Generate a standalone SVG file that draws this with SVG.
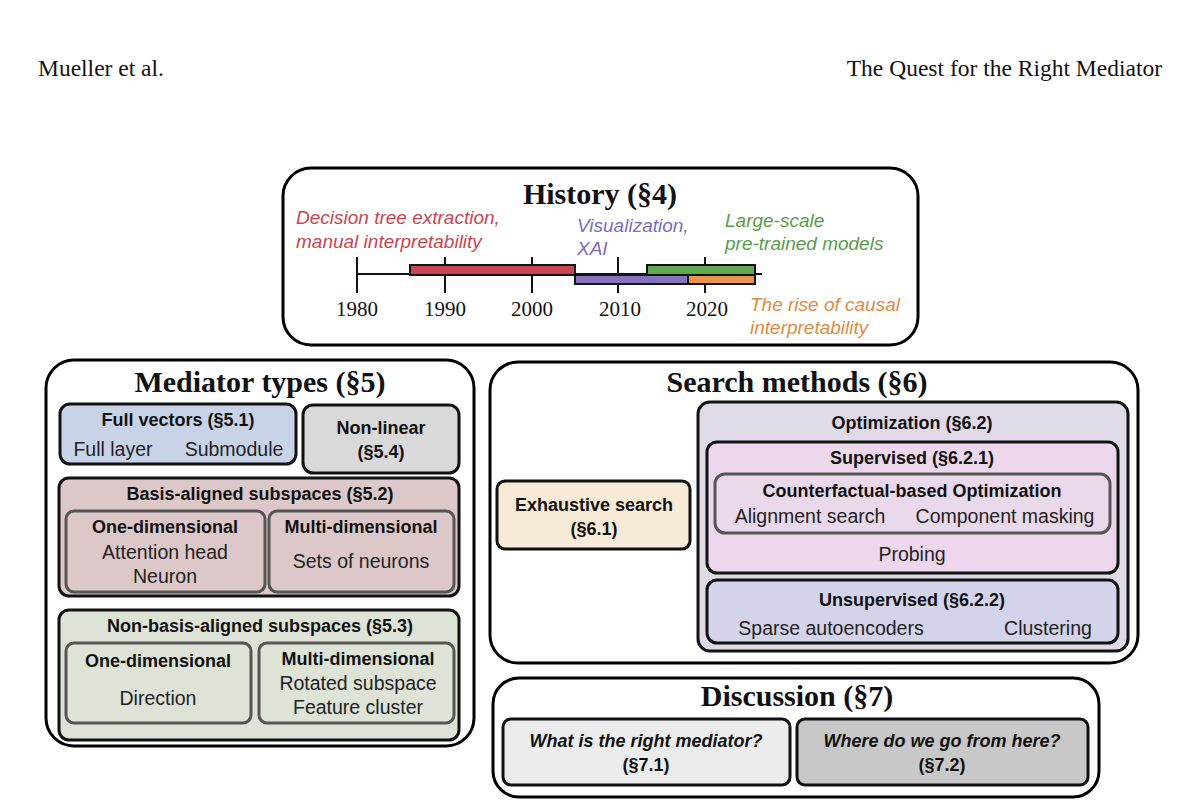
<svg xmlns="http://www.w3.org/2000/svg" width="1200" height="812" viewBox="0 0 1200 812">
<style>
.hd{font-family:"Liberation Serif",serif;font-size:23.5px;fill:#111}
.big{font-family:"Liberation Serif",serif;font-size:30px;font-weight:bold;fill:#111;text-anchor:middle}
.bt{font-family:"Liberation Sans",sans-serif;font-size:18px;font-weight:bold;fill:#111;text-anchor:middle}
.tx{font-family:"Liberation Sans",sans-serif;font-size:19.5px;fill:#222;text-anchor:middle}
.it{font-family:"Liberation Sans",sans-serif;font-size:18px;font-style:italic;font-weight:bold;fill:#111;text-anchor:middle}
.ti{font-family:"Liberation Sans",sans-serif;font-size:19px;font-style:italic}
.yr{font-family:"Liberation Serif",serif;font-size:21px;fill:#111;text-anchor:middle}
.outer{fill:#fff;stroke:#000;stroke-width:3}
.in{stroke:#111;stroke-width:3}
.in2{stroke:#555;stroke-width:3}
</style>
<rect width="1200" height="812" fill="#fff"/>
<text class="hd" x="38" y="76">Mueller et al.</text>
<text class="hd" x="1162" y="76" text-anchor="end">The Quest for the Right Mediator</text>

<g id="history">
<rect class="outer" x="283" y="168" width="635" height="177" rx="28"/>
<text class="big" x="600" y="204">History (§4)</text>
<g stroke="#111" stroke-width="2">
<line x1="357" y1="274" x2="762" y2="274"/>
<line x1="357" y1="257" x2="357" y2="293"/><line x1="445" y1="257" x2="445" y2="293"/>
<line x1="532" y1="257" x2="532" y2="293"/><line x1="618" y1="257" x2="618" y2="293"/>
<line x1="705" y1="257" x2="705" y2="293"/>
</g>
<rect x="410" y="265" width="165" height="10" fill="#c9454f" stroke="#111" stroke-width="2"/>
<rect x="575" y="275" width="113" height="9" fill="#8673c0" stroke="#111" stroke-width="2"/>
<rect x="647" y="265" width="108" height="10" fill="#5fa951" stroke="#111" stroke-width="2"/>
<rect x="688" y="275" width="67" height="9" fill="#e8944a" stroke="#111" stroke-width="2"/>
<text class="yr" x="357" y="316">1980</text><text class="yr" x="445" y="316">1990</text>
<text class="yr" x="532" y="316">2000</text><text class="yr" x="620" y="316">2010</text>
<text class="yr" x="707" y="316">2020</text>
<text class="ti" x="296" y="224" fill="#c9454f">Decision tree extraction,</text>
<text class="ti" x="296" y="248" fill="#c9454f">manual interpretability</text>
<text class="ti" x="577" y="232" fill="#7d6bbd">Visualization,</text>
<text class="ti" x="577" y="255" fill="#7d6bbd">XAI</text>
<text class="ti" x="725" y="227" fill="#5a9c4a">Large-scale</text>
<text class="ti" x="725" y="250" fill="#5a9c4a">pre-trained models</text>
<text class="ti" x="750" y="311" fill="#e08b43">The rise of causal</text>
<text class="ti" x="750" y="334" fill="#e08b43">interpretability</text>
</g>

<g id="mediator">
<rect class="outer" x="46" y="360" width="428" height="386" rx="28"/>
<text class="big" x="260" y="392">Mediator types (§5)</text>
<g id="fullvec"><rect class="in" x="60" y="404" width="236" height="60" rx="10" fill="#c9d3e8"/>
<text class="bt" x="178" y="426">Full vectors (§5.1)</text>
<text class="tx" x="113" y="456">Full layer</text><text class="tx" x="234" y="456">Submodule</text></g>
<g id="nonlinear"><rect class="in" x="303" y="405" width="156" height="68" rx="10" fill="#d9d9d9"/>
<text class="bt" x="381" y="434">Non-linear</text><text class="bt" x="381" y="458">(§5.4)</text></g>
<g id="basis"><rect class="in" x="59" y="478" width="400" height="118" rx="10" fill="#dcc8c8"/>
<text class="bt" x="260" y="500">Basis-aligned subspaces (§5.2)</text>
<rect class="in2" x="66" y="511" width="199" height="81" rx="8" fill="#dcc8c8"/>
<text class="bt" x="165" y="533">One-dimensional</text><text class="tx" x="165" y="559">Attention head</text><text class="tx" x="165" y="583">Neuron</text>
<rect class="in2" x="269" y="511" width="185" height="81" rx="8" fill="#dcc8c8"/>
<text class="bt" x="361" y="533">Multi-dimensional</text><text class="tx" x="361" y="568">Sets of neurons</text></g>
<g id="nonbasis"><rect class="in" x="59" y="610" width="400" height="130" rx="10" fill="#dde3d7"/>
<text class="bt" x="260" y="632">Non-basis-aligned subspaces (§5.3)</text>
<rect class="in2" x="66" y="643" width="185" height="80" rx="8" fill="#dde3d7"/>
<text class="bt" x="158" y="667">One-dimensional</text><text class="tx" x="158" y="705">Direction</text>
<rect class="in2" x="259" y="643" width="195" height="80" rx="8" fill="#dde3d7"/>
<text class="bt" x="358" y="665">Multi-dimensional</text><text class="tx" x="358" y="690">Rotated subspace</text><text class="tx" x="358" y="714">Feature cluster</text></g>
</g>

<g id="search">
<rect class="outer" x="490" y="362" width="648" height="301" rx="28"/>
<text class="big" x="797" y="392">Search methods (§6)</text>
<g id="exhaustive"><rect class="in" x="497" y="481" width="193" height="68" rx="8" fill="#f7ead6"/>
<text class="bt" x="594" y="511">Exhaustive search</text><text class="bt" x="594" y="535">(§6.1)</text></g>
<g id="optimization"><rect class="in" x="698" y="402" width="430" height="249" rx="12" fill="#e0d9e8"/>
<text class="bt" x="912" y="429">Optimization (§6.2)</text>
<rect class="in" x="707" y="442" width="411" height="131" rx="10" fill="#ecd7ec"/>
<text class="bt" x="912" y="464">Supervised (§6.2.1)</text>
<rect class="in2" x="715" y="474" width="395" height="59" rx="10" fill="#ead9ea"/>
<text class="bt" x="912" y="497">Counterfactual-based Optimization</text>
<text class="tx" x="810" y="523">Alignment search</text><text class="tx" x="1005" y="523">Component masking</text>
<text class="tx" x="912" y="561">Probing</text>
<rect class="in" x="707" y="580" width="411" height="63" rx="10" fill="#d3d3ea"/>
<text class="bt" x="912" y="606">Unsupervised (§6.2.2)</text>
<text class="tx" x="831" y="635">Sparse autoencoders</text><text class="tx" x="1048" y="635">Clustering</text></g>
</g>

<g id="discussion">
<rect class="outer" x="493" y="678" width="606" height="119" rx="26"/>
<text class="big" x="797" y="706">Discussion (§7)</text>
<g id="d1"><rect class="in" x="503" y="719" width="287" height="66" rx="8" fill="#ececec"/>
<text class="it" x="646" y="747">What is the right mediator?</text><text class="bt" x="646" y="771">(§7.1)</text></g>
<g id="d2"><rect class="in" x="797" y="719" width="291" height="66" rx="8" fill="#c8c8c8"/>
<text class="it" x="942" y="747">Where do we go from here?</text><text class="bt" x="942" y="771">(§7.2)</text></g>
</g>
<g id="connectors"/>
</svg>
